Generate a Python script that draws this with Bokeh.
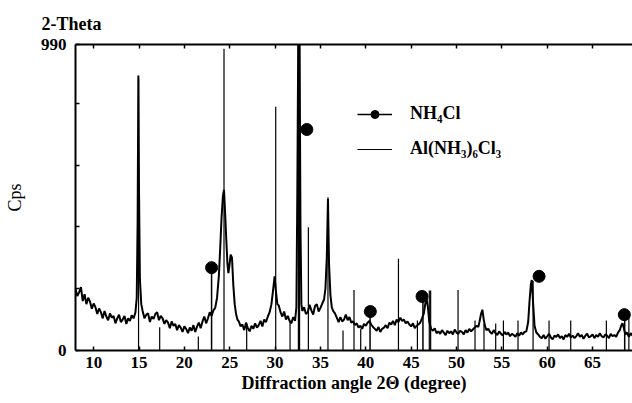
from bokeh.plotting import figure
from bokeh.models import (Range1d, FixedTicker, LinearAxis, Legend, LegendItem,
                          ColumnDataSource, Title)
from bokeh.embed import file_html
from bokeh.resources import INLINE

# ---- measured XRD trace (2-theta in degrees, intensity in cps) ----
theta = [
    8.0, 8.2, 8.4, 8.6, 8.8, 9.0, 9.2, 9.4, 9.6, 9.8,
    10.0, 10.2, 10.4, 10.6, 10.8, 11.0, 11.2, 11.4, 11.6, 11.8,
    12.0, 12.2, 12.4, 12.6, 12.8, 13.0, 13.2, 13.4, 13.6, 13.8,
    14.0, 14.2, 14.4, 14.6, 14.75, 14.85, 14.93, 15.0, 15.1, 15.25,
    15.4, 15.6, 15.8, 16.0, 16.2, 16.4, 16.6, 16.8, 17.0, 17.2,
    17.4, 17.6, 17.8, 18.0, 18.2, 18.4, 18.6, 18.8, 19.0, 19.2,
    19.4, 19.6, 19.8, 20.0, 20.2, 20.4, 20.6, 20.8, 21.0, 21.2,
    21.4, 21.6, 21.8, 22.0, 22.2, 22.4, 22.6, 22.8, 23.0, 23.2,
    23.4, 23.6, 23.8, 23.95, 24.1, 24.25, 24.37, 24.5, 24.62, 24.75,
    24.85, 24.95, 25.1, 25.25, 25.4, 25.55, 25.7, 25.85, 26.0, 26.2,
    26.4, 26.6, 26.8, 27.0, 27.2, 27.4, 27.6, 27.8, 28.0, 28.2,
    28.4, 28.6, 28.8, 29.0, 29.2, 29.4, 29.6, 29.8, 29.95, 30.1,
    30.25, 30.4, 30.6, 30.8, 31.0, 31.2, 31.4, 31.6, 31.8, 32.0,
    32.2, 32.35, 32.45, 32.55, 32.7, 32.8, 32.9, 33.0, 33.2, 33.4,
    33.6, 33.8, 34.0, 34.2, 34.4, 34.6, 34.8, 35.0, 35.2, 35.4,
    35.55, 35.7, 35.83, 35.95, 36.1, 36.25, 36.4, 36.6, 36.8, 37.0,
    37.2, 37.4, 37.6, 37.8, 38.0, 38.2, 38.4, 38.6, 38.8, 39.0,
    39.2, 39.4, 39.6, 39.8, 40.0, 40.2, 40.4, 40.6, 40.8, 41.0,
    41.2, 41.4, 41.6, 41.8, 42.0, 42.2, 42.4, 42.6, 42.8, 43.0,
    43.2, 43.4, 43.6, 43.8, 44.0, 44.2, 44.4, 44.6, 44.8, 45.0,
    45.2, 45.4, 45.6, 45.8, 46.0, 46.2, 46.4, 46.55, 46.7, 46.85,
    47.0, 47.2, 47.4, 47.6, 47.8, 48.0, 48.2, 48.4, 48.6, 48.8,
    49.0, 49.2, 49.4, 49.6, 49.8, 50.0, 50.2, 50.4, 50.6, 50.8,
    51.0, 51.2, 51.4, 51.6, 51.8, 52.0, 52.2, 52.4, 52.55, 52.7,
    52.85, 53.0, 53.15, 53.3, 53.5, 53.7, 53.9, 54.1, 54.3, 54.5,
    54.7, 54.9, 55.1, 55.3, 55.5, 55.7, 55.9, 56.1, 56.3, 56.5,
    56.7, 56.9, 57.1, 57.3, 57.5, 57.7, 57.9, 58.05, 58.2, 58.3,
    58.45, 58.6, 58.8, 59.0, 59.2, 59.4, 59.6, 59.8, 60.0, 60.2,
    60.4, 60.6, 60.8, 61.0, 61.2, 61.4, 61.6, 61.8, 62.0, 62.2,
    62.4, 62.6, 62.8, 63.0, 63.2, 63.4, 63.6, 63.8, 64.0, 64.2,
    64.4, 64.6, 64.8, 65.0, 65.2, 65.4, 65.6, 65.8, 66.0, 66.2,
    66.4, 66.6, 66.8, 67.0, 67.2, 67.4, 67.6, 67.8, 68.0, 68.15,
    68.3, 68.45, 68.6, 68.8, 69.0, 69.2, 69.4,
]
cps = [
    # 8.0 - 14.6
    200, 176, 188, 205, 160, 182, 150, 171, 158, 135,
    152, 140, 118, 136, 124, 104, 128, 110, 98, 120,
    106, 112, 88, 104, 116, 92, 100, 112, 86, 104,
    96, 114, 104, 122,
    # 14.75 - 15.25
    170, 420, 890, 520, 230, 150,
    # 15.4 - 23.2
    128, 104, 116, 120, 92, 110, 102, 118, 124, 98,
    112, 104, 86, 98, 90, 72, 94, 80, 86, 66,
    82, 74, 60, 78, 70, 56, 74, 64, 82, 60,
    78, 90, 72, 94, 110, 88, 104, 124, 112, 130,
    # 23.4 - 25.85
    138, 170, 240, 330, 430, 500, 520, 440, 360, 280,
    250, 270, 310, 300, 210, 150, 118, 100,
    # 26.0 - 29.4
    94, 78, 84, 66, 90, 72, 62, 80, 70, 88,
    74, 82, 96, 78, 100, 92, 110, 124,
    # 29.6 - 30.25
    150, 200, 240, 190, 150,
    # 30.4 - 32.2
    146, 124, 110, 126, 100, 112, 96, 88, 108, 96,
    # 32.35 - 32.9
    140, 500, 990, 990, 400, 150,
    # 33.0 - 35.4
    128, 140, 118, 124, 148, 130, 116, 144, 150, 126,
    138, 152, 165,
    # 35.55 - 36.4
    200, 300, 490, 280, 180, 140, 128,
    # 36.6 - 46.2
    120, 106, 92, 108, 94, 100, 116, 98, 108, 90,
    94, 82, 88, 74, 80, 70, 86, 80, 90, 96,
    84, 76, 70, 64, 76, 60, 70, 74, 82, 72,
    90, 84, 96, 82, 100, 92, 106, 96, 100, 88,
    94, 84, 78, 88, 72, 80, 84, 90, 104,
    # 46.4 - 46.85
    120, 150, 168, 140,
    # 47.0 - 52.4
    92, 70, 64, 72, 56, 62, 54, 66, 58, 50,
    64, 56, 62, 52, 68, 58, 54, 64, 60, 52,
    66, 58, 70, 62, 68, 74, 80, 76,
    # 52.55 - 53.3
    95, 118, 132, 100, 78, 66,
    # 53.5 - 57.9
    70, 60, 54, 66, 56, 50, 62, 54, 48, 60,
    52, 58, 46, 54, 50, 44, 56, 48, 58, 52,
    60, 62, 92,
    # 58.05 - 58.8
    160, 215, 228, 150, 80, 58,
    # 59.0 - 68.0
    52, 44, 40, 50, 38, 46, 54, 42, 36, 48,
    44, 52, 40, 46, 36, 50, 44, 54, 42, 48,
    40, 46, 56, 44, 50, 38, 48, 54, 42, 46,
    52, 40, 50, 44, 56, 46, 42, 52, 48, 40,
    54, 46, 50, 44, 58, 66,
    # 68.15 - 69.4
    80, 88, 72, 52, 58, 44, 56, 48,
]

# ---- reference lines: Al(NH3)6Cl3 (plain lines) ----
al_theta = [14.95, 17.28, 21.54, 24.37, 26.87, 30.07, 31.65, 32.57, 32.7, 33.67,
            35.83, 37.49, 38.7, 39.44, 43.6, 45.69, 47.0, 47.15, 50.17, 52.04,
            53.03, 54.32, 55.17, 56.78, 58.44, 60.2, 62.59, 66.52, 69.0]
al_cps = [880, 75, 45, 976, 87, 789, 97, 990, 990, 399,
          496, 65, 196, 70, 297, 97, 194, 194, 196, 97,
          87, 87, 97, 97, 226, 97, 97, 97, 108]

# ---- reference lines: NH4Cl (lines with dots) ----
nh4cl_stick_theta = [23.0, 40.47, 46.3, 68.54]
nh4cl_stick_cps = [268, 126, 175, 116]
nh4cl_dot_theta = [23.0, 33.5, 40.5, 46.2, 59.1, 68.5]
nh4cl_dot_cps = [268, 715, 126, 175, 240, 116]

x_ticks = [10, 15, 20, 25, 30, 35, 40, 45, 50, 55, 60, 65]
y_label_ticks = [0, 990]
y_minor_ticks = [200, 400, 600, 800]

FONT = "Liberation Serif"

p = figure(width=632, height=403, x_range=Range1d(8.0, 69.4), y_range=Range1d(0, 990),
           output_backend="svg", toolbar_location=None,
           min_border_left=75, min_border_right=0, min_border_top=44, min_border_bottom=53,
           x_axis_label="Diffraction angle 2\u0398 (degree)", y_axis_label="Cps")
p.outline_line_color = None
p.xgrid.visible = False
p.ygrid.visible = False
p.background_fill_color = "white"
p.border_fill_color = "white"

p.title = Title(text="2-Theta", align="left", offset=-34, standoff=22,
                text_font=FONT, text_font_style="bold", text_font_size="18px",
                text_color="black")

for ax in (p.xaxis[0], p.yaxis[0]):
    ax.axis_line_width = 2
    ax.axis_line_color = "black"
    ax.major_tick_in = 4
    ax.major_tick_out = 0
    ax.minor_tick_in = 4
    ax.minor_tick_out = 0
    ax.major_tick_line_width = 1.5
    ax.minor_tick_line_width = 1.5
    ax.major_label_text_font = FONT
    ax.major_label_text_font_style = "bold"
    ax.major_label_text_font_size = "17px"
    ax.major_label_text_color = "black"
    ax.axis_label_text_font = FONT
    ax.axis_label_text_color = "black"

p.xaxis[0].ticker = FixedTicker(ticks=x_ticks, minor_ticks=[])
p.xaxis[0].major_label_standoff = 6
p.xaxis[0].axis_label_standoff = 2
p.xaxis[0].axis_label_text_font_style = "bold"
p.xaxis[0].axis_label_text_font_size = "18px"

p.yaxis[0].ticker = FixedTicker(ticks=y_label_ticks, minor_ticks=y_minor_ticks)
p.yaxis[0].major_label_standoff = 9
p.yaxis[0].axis_label_standoff = 13
p.yaxis[0].axis_label_text_font_style = "normal"
p.yaxis[0].axis_label_text_font_size = "18px"

top_axis = LinearAxis(ticker=FixedTicker(ticks=[], minor_ticks=x_ticks),
                      minor_tick_in=4, minor_tick_out=0, minor_tick_line_width=1.5,
                      major_tick_in=0, major_tick_out=0,
                      axis_line_width=2, axis_line_color="black")
p.add_layout(top_axis, "above")

# spectrum
p.line(theta, cps, line_color="black", line_width=2)

# reference sticks
al_src = ColumnDataSource(dict(x=al_theta, y0=[0] * len(al_theta), y1=al_cps))
al_r = p.segment(x0="x", y0="y0", x1="x", y1="y1", source=al_src,
                 line_color="black", line_width=1.2)
nh_src = ColumnDataSource(dict(x=nh4cl_stick_theta, y0=[0] * len(nh4cl_stick_theta),
                               y1=nh4cl_stick_cps))
nh_r = p.segment(x0="x", y0="y0", x1="x", y1="y1", source=nh_src,
                 line_color="black", line_width=1.5)
dot_r = p.scatter(nh4cl_dot_theta, nh4cl_dot_cps, size=12, marker="circle",
                  fill_color="black", line_color="black")

legend = Legend(items=[LegendItem(label="NH\u2084Cl", renderers=[nh_r, dot_r]),
                       LegendItem(label="Al(NH\u2083)\u2086Cl\u2083", renderers=[al_r])],
                location=(282, 191), glyph_width=35, glyph_height=20, label_height=20,
                label_standoff=18, spacing=14, padding=0, margin=0,
                border_line_color=None, background_fill_alpha=0,
                label_text_font=FONT, label_text_font_style="bold",
                label_text_font_size="18px", label_text_color="black")
p.add_layout(legend)

open("out.html", "w").write(file_html(p, INLINE))
